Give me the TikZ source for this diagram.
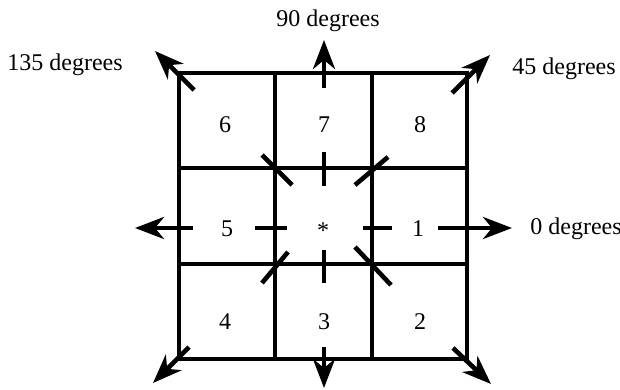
\documentclass[tikz,border=0pt]{standalone}
\usepackage{fontspec}
\setmainfont{Liberation Serif}
\usetikzlibrary{arrows.meta}
\tikzset{
  gridline/.style  = {line width=1.8pt, black},
  raydash/.style   = {line width=2.3pt, black},
  ray/.style       = {-{Stealth[length=14.5pt, width=11pt, inset=4.5pt]}, line width=2.3pt, black},
  cellnum/.style   = {font=\fontsize{12}{14}\selectfont, inner sep=0pt},
  dirlbl/.style    = {font=\fontsize{12}{14}\selectfont, inner sep=0pt},
}

\begin{document}
\begin{tikzpicture}[x=0.5pt, y=-0.5pt]
  \useasboundingbox (0,0) rectangle (620,390);

  % the 3x3 grid
  \draw[gridline] (179,73) rectangle (467,359);
  \draw[gridline] (275,73) -- (275,359);
  \draw[gridline] (372,73) -- (372,359);
  \draw[gridline] (179,168) -- (467,168);
  \draw[gridline] (179,264) -- (467,264);

  % cell numbers
  \node[cellnum] (n6) at (225,125) {6};
  \node[cellnum] (n7) at (324,125) {7};
  \node[cellnum] (n8) at (420,125) {8};
  \node[cellnum] (n5) at (227,229) {5};
  \node[cellnum] (n1) at (418,229) {1};
  \node[cellnum] (n4) at (225,322) {4};
  \node[cellnum] (n3) at (324,322) {3};
  \node[cellnum] (n2) at (420,322) {2};
  \node[cellnum] (ctr) at (323,231) {*};

  % dashes over the inner grid lines
  \draw[raydash] (363,228) -- (392,228);
  \draw[raydash] (255,228) -- (287,228);
  \draw[raydash] (324,152) -- (324,186);
  \draw[raydash] (324,250) -- (324,283);
  \draw[raydash] (262,155) -- (292,185);
  \draw[raydash] (355,185) -- (388,157);
  \draw[raydash] (262,283) -- (288,252);
  \draw[raydash] (355,247) -- (391,285);

  % outer arrows
  \draw[ray] (438,228) -- (512,228);
  \draw[ray] (324,88) -- (324,40);
  \draw[ray] (193,228) -- (135,228);
  \draw[ray] (324,347) -- (324,388);
  \draw[ray] (194,90) -- (155,51);
  \draw[ray] (452,93) -- (490,55);
  \draw[ray] (189,347) -- (153,383);
  \draw[ray] (453,348) -- (491,384);

  % direction labels
  \node[dirlbl, anchor=west] (d0)   at (530,229) {0 degrees};
  \node[dirlbl] (d45)  at (564,69) {45 degrees};
  \node[dirlbl] (d90)  at (328,21) {90 degrees};
  \node[dirlbl] (d135) at (65,65) {135 degrees};
\end{tikzpicture}
\end{document}
